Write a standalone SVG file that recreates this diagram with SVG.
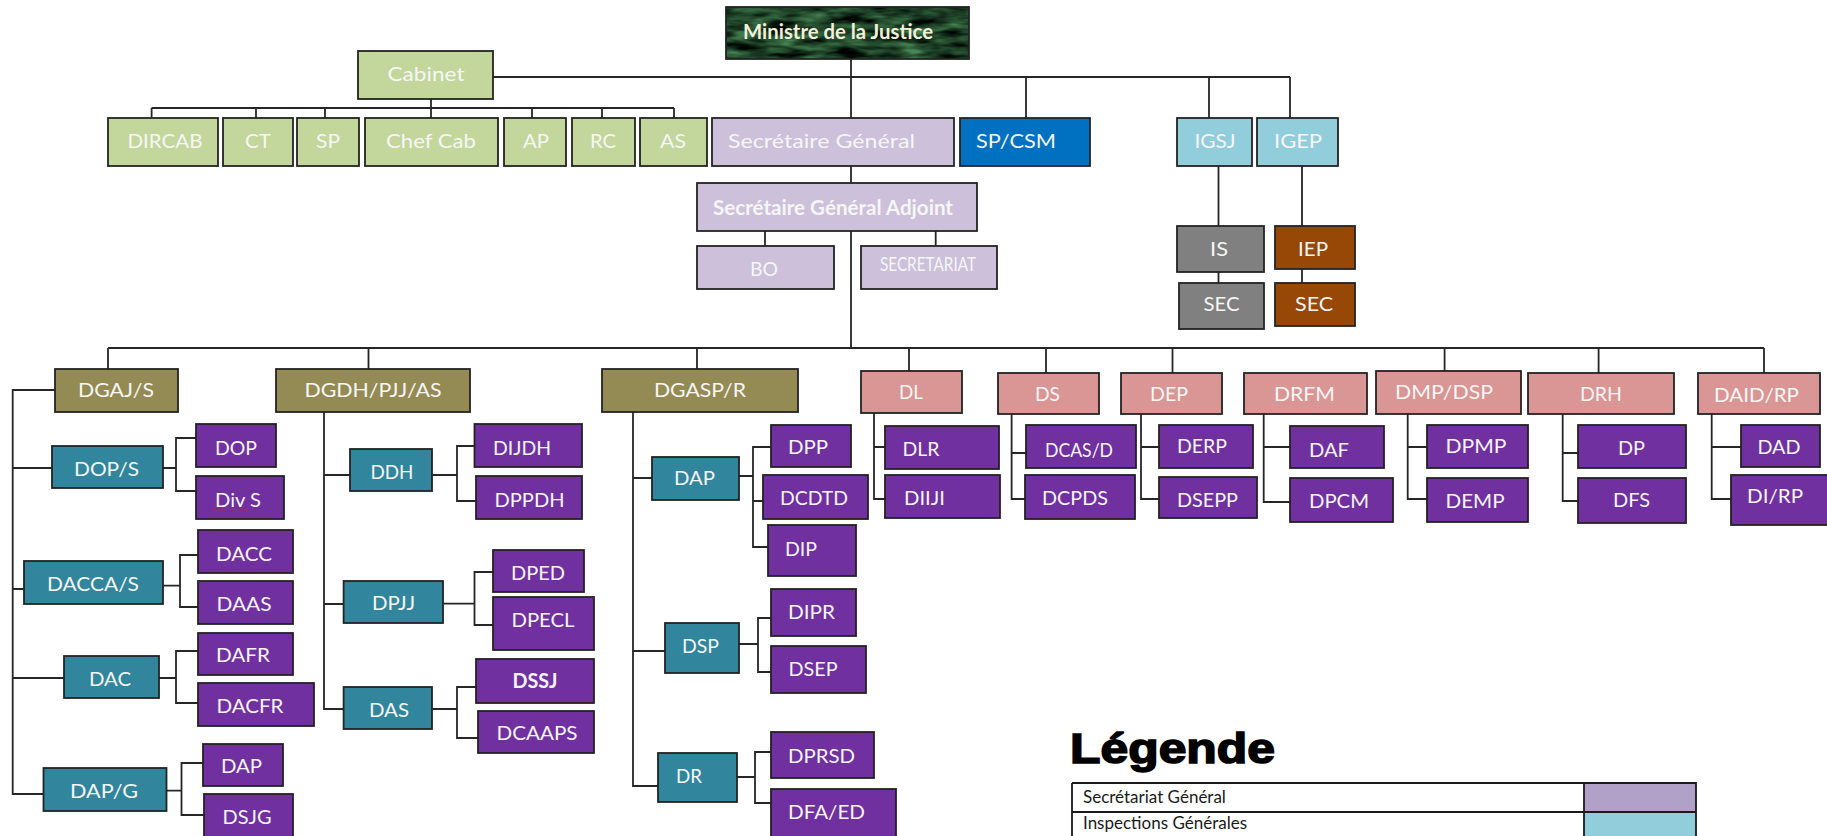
<svg xmlns="http://www.w3.org/2000/svg" width="1827" height="836" viewBox="0 0 1827 836">
<style>
.b{stroke:#232323;stroke-width:1.8}
.g1{fill:#c3d69b}.sg{fill:#ccc0da}.csm{fill:#0070c0}.ig{fill:#92cddc}.gr{fill:#808080}.br{fill:#974706}
.dg{fill:#948a54}.tl{fill:#31859c}.pu{fill:#7030a0}.pk{fill:#d99694}
.t{font-family:Lato,"Liberation Sans",sans-serif;font-size:20px;fill:#f6f6f6;text-anchor:middle}
.bd{font-weight:bold}
.c path{fill:none;stroke:#262626;stroke-width:1.8}
.lg{font-family:Lato,"Liberation Sans",sans-serif;font-size:17px;fill:#1a1a1a}
</style>
<defs>
<filter id="marble" x="0" y="0" width="100%" height="100%" color-interpolation-filters="sRGB">
<feTurbulence type="fractalNoise" baseFrequency="0.03 0.12" numOctaves="3" seed="7" result="n"/>
<feColorMatrix in="n" type="matrix" values="0.5 0 0 0 -0.13  0.85 0 0 0 -0.17  0.55 0 0 0 -0.12  0 0 0 0 1" result="c"/>
<feComposite in="c" in2="SourceGraphic" operator="in"/>
</filter>
</defs>
<rect width="1827" height="836" fill="#ffffff"/>

<g id="connectors" class="c">
<path d="M851,59V118M493,77H1290M1026,77V118M1209,77V118M1290,77V118"/>
<path d="M431,99V108M151.6,108H674M151.6,108V118M256,108V118M325,108V118M431,108V118M532,108V118M602,108V118M674,108V118"/>
<path d="M851,166V183M765,231V246M935.7,231V246M851,231V348"/>
<path d="M1218.5,166V226M1218.5,272V283M1302,166V226M1302,269V283"/>
<path d="M108,348H1764M108,348V369M368.5,348V369M697,348V369M909,348V371M1046,348V373M1172.5,348V373M1444.6,348V371M1598.6,348V373M1764,348V373"/>
<path d="M55,390H12.7V794H43.5M12.7,468H52M12.7,589H24M12.7,678H64"/>
<path d="M163,468H176M196,438H176V491H196M163,585.7H180M198,555H180V607H198M159,678H176M198,651H176V703H198M166.5,790.7H181.5M203,763H181.5V815H204"/>
<path d="M324,412V709H343.6M324,475H350M324,604H343.6"/>
<path d="M432,475H457M474.5,446H457V501H476M443,603.7H474.5M493,572H474.5V625H493M432,709H457M476,687H457V738H478"/>
<path d="M633,412V786H658M633,478H652M633,651H665"/>
<path d="M739,476H753M771,447H753V547H768M753,501H763M739,644H758M771,618H758V672H771M737,777H755M771,752H755V803H771"/>
<path d="M874,413V499H885M874,447H885M1011.6,414V499H1025M1011.6,453H1026M1141,414V499H1159M1141,447H1159M1263.7,414V502H1290M1263.7,447H1290M1407.7,414V499H1427M1407.7,447H1427M1562.7,414V501H1578M1562.7,453H1578M1711.7,414V499H1731M1711.7,447H1741"/>
</g>

<g id="ministre">
<rect x="726" y="7" width="243" height="52" fill="#1c3f26" filter="url(#marble)"/>
<rect x="726" y="7" width="243" height="52" fill="none" class="b"/>
<text class="t bd" x="838" y="39" font-size="19" textLength="190" lengthAdjust="spacingAndGlyphs" style="fill:#f2f0d8">Ministre de la Justice</text>
</g>
<g id="cabinet"><rect class="b g1" x="358" y="51" width="135" height="48"/><text class="t" x="426" y="81" font-size="21" textLength="77" lengthAdjust="spacingAndGlyphs">Cabinet</text></g>
<g id="dircab"><rect class="b g1" x="108" y="118" width="110" height="48"/><text class="t" x="165" y="148" textLength="75" lengthAdjust="spacingAndGlyphs">DIRCAB</text></g>
<g id="ct"><rect class="b g1" x="223" y="118" width="70" height="48"/><text class="t" x="258" y="148" textLength="26" lengthAdjust="spacingAndGlyphs">CT</text></g>
<g id="sp"><rect class="b g1" x="297" y="118" width="62" height="48"/><text class="t" x="328" y="148" textLength="24" lengthAdjust="spacingAndGlyphs">SP</text></g>
<g id="chefcab"><rect class="b g1" x="365" y="118" width="133" height="48"/><text class="t" x="431" y="148" textLength="90" lengthAdjust="spacingAndGlyphs">Chef Cab</text></g>
<g id="ap"><rect class="b g1" x="504" y="118" width="62" height="48"/><text class="t" x="536" y="148" textLength="26" lengthAdjust="spacingAndGlyphs">AP</text></g>
<g id="rc"><rect class="b g1" x="572" y="118" width="63" height="48"/><text class="t" x="603" y="148" textLength="26" lengthAdjust="spacingAndGlyphs">RC</text></g>
<g id="as"><rect class="b g1" x="640" y="118" width="67" height="48"/><text class="t" x="673" y="148" textLength="26" lengthAdjust="spacingAndGlyphs">AS</text></g>
<g id="sg"><rect class="b sg" x="712" y="118" width="242" height="48"/><text class="t" x="821.5" y="148" font-size="22" textLength="187" lengthAdjust="spacingAndGlyphs">Secrétaire Général</text></g>
<g id="spcsm"><rect class="b csm" x="960" y="118" width="130" height="48"/><text class="t" x="1016" y="148" textLength="80" lengthAdjust="spacingAndGlyphs">SP/CSM</text></g>
<g id="igsj"><rect class="b ig" x="1177" y="118" width="75" height="48"/><text class="t" x="1215" y="148" textLength="41" lengthAdjust="spacingAndGlyphs">IGSJ</text></g>
<g id="igep"><rect class="b ig" x="1257" y="118" width="81" height="48"/><text class="t" x="1298" y="148" textLength="48" lengthAdjust="spacingAndGlyphs">IGEP</text></g>
<g id="sga"><rect class="b sg" x="697" y="183" width="280" height="48"/><text class="t bd" x="833" y="215" font-size="18" textLength="240" lengthAdjust="spacingAndGlyphs">Secrétaire Général Adjoint</text></g>
<g id="bo"><rect class="b sg" x="697" y="246" width="137" height="43"/><text class="t" x="764" y="276" textLength="28" lengthAdjust="spacingAndGlyphs">BO</text></g>
<g id="secretariat"><rect class="b sg" x="861" y="246" width="136" height="43"/><text class="t" x="928" y="271" font-size="13" textLength="96" lengthAdjust="spacingAndGlyphs">SECRETARIAT</text></g>
<g id="is"><rect class="b gr" x="1177" y="226" width="87" height="46"/><text class="t" x="1219" y="256" textLength="18" lengthAdjust="spacingAndGlyphs">IS</text></g>
<g id="sec1"><rect class="b gr" x="1179" y="283" width="85" height="46"/><text class="t" x="1221.5" y="311" textLength="36" lengthAdjust="spacingAndGlyphs">SEC</text></g>
<g id="iep"><rect class="b br" x="1275" y="226" width="80" height="43"/><text class="t" x="1313" y="256" textLength="30" lengthAdjust="spacingAndGlyphs">IEP</text></g>
<g id="sec2"><rect class="b br" x="1275" y="283" width="80" height="43"/><text class="t" x="1314" y="311" textLength="38" lengthAdjust="spacingAndGlyphs">SEC</text></g>

<g id="dgajs"><rect class="b dg" x="55" y="369" width="123" height="43"/><text class="t" x="116" y="397" textLength="76" lengthAdjust="spacingAndGlyphs">DGAJ/S</text></g>
<g id="dgdh"><rect class="b dg" x="276" y="369" width="194" height="43"/><text class="t" x="373" y="397" textLength="137" lengthAdjust="spacingAndGlyphs">DGDH/PJJ/AS</text></g>
<g id="dgasp"><rect class="b dg" x="602" y="369" width="196" height="43"/><text class="t" x="700" y="397" textLength="92" lengthAdjust="spacingAndGlyphs">DGASP/R</text></g>
<g id="dl"><rect class="b pk" x="861" y="371" width="101" height="42"/><text class="t" x="911" y="399" textLength="24" lengthAdjust="spacingAndGlyphs">DL</text></g>
<g id="ds"><rect class="b pk" x="998" y="373" width="101" height="41"/><text class="t" x="1047.5" y="400.5" textLength="25" lengthAdjust="spacingAndGlyphs">DS</text></g>
<g id="dep"><rect class="b pk" x="1121" y="373" width="101" height="41"/><text class="t" x="1169" y="400.5" textLength="38" lengthAdjust="spacingAndGlyphs">DEP</text></g>
<g id="drfm"><rect class="b pk" x="1244" y="373" width="123" height="41"/><text class="t" x="1304.5" y="400.5" textLength="61" lengthAdjust="spacingAndGlyphs">DRFM</text></g>
<g id="dmpdsp"><rect class="b pk" x="1376" y="371" width="145" height="43"/><text class="t" x="1444" y="399" textLength="98" lengthAdjust="spacingAndGlyphs">DMP/DSP</text></g>
<g id="drh"><rect class="b pk" x="1528" y="373" width="146" height="41"/><text class="t" x="1601" y="400.5" textLength="42" lengthAdjust="spacingAndGlyphs">DRH</text></g>
<g id="daidrp"><rect class="b pk" x="1698" y="373" width="122" height="41"/><text class="t" x="1756.5" y="401.5" textLength="85" lengthAdjust="spacingAndGlyphs">DAID/RP</text></g>

<g id="dops"><rect class="b tl" x="52" y="446" width="111" height="42"/><text class="t" x="106.5" y="476" textLength="65" lengthAdjust="spacingAndGlyphs">DOP/S</text></g>
<g id="dop"><rect class="b pu" x="196" y="424" width="80" height="43"/><text class="t" x="236" y="455" textLength="42" lengthAdjust="spacingAndGlyphs">DOP</text></g>
<g id="divs"><rect class="b pu" x="196" y="476" width="88" height="43"/><text class="t" x="238" y="506.5" textLength="46" lengthAdjust="spacingAndGlyphs">Div S</text><path d="M213.5,509.5H248" stroke="#d02030" stroke-width="1.3" stroke-dasharray="1.6 1.6" fill="none"/></g>
<g id="daccas"><rect class="b tl" x="24" y="561" width="139" height="43"/><text class="t" x="93" y="591" textLength="92" lengthAdjust="spacingAndGlyphs">DACCA/S</text></g>
<g id="dacc"><rect class="b pu" x="198" y="530" width="95" height="43"/><text class="t" x="244" y="560.5" textLength="56" lengthAdjust="spacingAndGlyphs">DACC</text></g>
<g id="daas"><rect class="b pu" x="198" y="581" width="95" height="43"/><text class="t" x="244" y="610.5" textLength="55" lengthAdjust="spacingAndGlyphs">DAAS</text></g>
<g id="dac"><rect class="b tl" x="64" y="656" width="95" height="42"/><text class="t" x="110" y="686" textLength="42" lengthAdjust="spacingAndGlyphs">DAC</text></g>
<g id="dafr"><rect class="b pu" x="198" y="633" width="95" height="42"/><text class="t" x="243" y="661.5" textLength="54" lengthAdjust="spacingAndGlyphs">DAFR</text></g>
<g id="dacfr"><rect class="b pu" x="198" y="683" width="116" height="43"/><text class="t" x="250" y="713" textLength="67" lengthAdjust="spacingAndGlyphs">DACFR</text></g>
<g id="dapg"><rect class="b tl" x="43.5" y="768" width="123" height="43"/><text class="t" x="104" y="798" textLength="68" lengthAdjust="spacingAndGlyphs">DAP/G</text></g>
<g id="dap1"><rect class="b pu" x="203" y="744" width="80" height="42"/><text class="t" x="241.5" y="773" textLength="41" lengthAdjust="spacingAndGlyphs">DAP</text></g>
<g id="dsjg"><rect class="b pu" x="204" y="794" width="89" height="46"/><text class="t" x="247" y="824" textLength="49" lengthAdjust="spacingAndGlyphs">DSJG</text></g>

<g id="ddh"><rect class="b tl" x="350" y="449" width="82" height="42"/><text class="t" x="392" y="479" textLength="43" lengthAdjust="spacingAndGlyphs">DDH</text></g>
<g id="dijdh"><rect class="b pu" x="474.5" y="424" width="107.5" height="43"/><text class="t" x="522" y="455" textLength="58" lengthAdjust="spacingAndGlyphs">DIJDH</text></g>
<g id="dppdh"><rect class="b pu" x="476" y="476" width="106" height="43"/><text class="t" x="529.5" y="506.5" textLength="70" lengthAdjust="spacingAndGlyphs">DPPDH</text></g>
<g id="dpjj"><rect class="b tl" x="343.6" y="581" width="99.4" height="42"/><text class="t" x="393.5" y="610" textLength="43" lengthAdjust="spacingAndGlyphs">DPJJ</text></g>
<g id="dped"><rect class="b pu" x="493" y="550" width="91" height="42"/><text class="t" x="538" y="580" textLength="54" lengthAdjust="spacingAndGlyphs">DPED</text></g>
<g id="dpecl"><rect class="b pu" x="493" y="597" width="101" height="53"/><text class="t" x="543" y="627" textLength="63" lengthAdjust="spacingAndGlyphs">DPECL</text></g>
<g id="das"><rect class="b tl" x="343.6" y="687" width="88.4" height="42"/><text class="t" x="389" y="716.5" textLength="40" lengthAdjust="spacingAndGlyphs">DAS</text></g>
<g id="dssj"><rect class="b pu" x="476" y="659" width="118" height="44"/><text class="t bd" x="535" y="688" textLength="45" lengthAdjust="spacingAndGlyphs">DSSJ</text></g>
<g id="dcaaps"><rect class="b pu" x="478" y="711" width="116" height="42"/><text class="t" x="537" y="740" textLength="81" lengthAdjust="spacingAndGlyphs">DCAAPS</text></g>

<g id="dap2"><rect class="b tl" x="652" y="457" width="87" height="43"/><text class="t" x="694.5" y="485" textLength="41" lengthAdjust="spacingAndGlyphs">DAP</text></g>
<g id="dpp"><rect class="b pu" x="771" y="425" width="80" height="42"/><text class="t" x="808" y="454" textLength="40" lengthAdjust="spacingAndGlyphs">DPP</text></g>
<g id="dcdtd"><rect class="b pu" x="763" y="475" width="105" height="44"/><text class="t" x="814" y="505" textLength="68" lengthAdjust="spacingAndGlyphs">DCDTD</text></g>
<g id="dip"><rect class="b pu" x="768" y="525" width="88" height="51"/><text class="t" x="801" y="555.5" textLength="32" lengthAdjust="spacingAndGlyphs">DIP</text></g>
<g id="dsp"><rect class="b tl" x="665" y="623" width="74" height="50"/><text class="t" x="700.5" y="653" textLength="37" lengthAdjust="spacingAndGlyphs">DSP</text></g>
<g id="dipr"><rect class="b pu" x="771" y="589" width="85" height="47"/><text class="t" x="811.5" y="619" textLength="47" lengthAdjust="spacingAndGlyphs">DIPR</text></g>
<g id="dsep"><rect class="b pu" x="771" y="646" width="95" height="47"/><text class="t" x="813" y="676" textLength="49" lengthAdjust="spacingAndGlyphs">DSEP</text></g>
<g id="dr"><rect class="b tl" x="658" y="753" width="79" height="49"/><text class="t" x="689" y="783" textLength="26" lengthAdjust="spacingAndGlyphs">DR</text></g>
<g id="dprsd"><rect class="b pu" x="771" y="732" width="103" height="46"/><text class="t" x="821.5" y="762.5" textLength="67" lengthAdjust="spacingAndGlyphs">DPRSD</text></g>
<g id="dfaed"><rect class="b pu" x="771" y="789" width="125" height="52"/><text class="t" x="826.5" y="819" textLength="77" lengthAdjust="spacingAndGlyphs">DFA/ED</text></g>

<g id="dlr"><rect class="b pu" x="885" y="426" width="114" height="43"/><text class="t" x="921" y="456" textLength="37" lengthAdjust="spacingAndGlyphs">DLR</text></g>
<g id="diiji"><rect class="b pu" x="885" y="475" width="115" height="43"/><text class="t" x="924.5" y="505" textLength="41" lengthAdjust="spacingAndGlyphs">DIIJI</text></g>
<g id="dcasd"><rect class="b pu" x="1026" y="425" width="110" height="43"/><text class="t" x="1079" y="456.5" textLength="68" lengthAdjust="spacingAndGlyphs">DCAS/D</text></g>
<g id="dcpds"><rect class="b pu" x="1025" y="475" width="110" height="44"/><text class="t" x="1075" y="505" textLength="66" lengthAdjust="spacingAndGlyphs">DCPDS</text></g>
<g id="derp"><rect class="b pu" x="1159" y="425" width="94" height="43"/><text class="t" x="1202" y="453" textLength="50" lengthAdjust="spacingAndGlyphs">DERP</text></g>
<g id="dsepp"><rect class="b pu" x="1159" y="477" width="98" height="41"/><text class="t" x="1207.5" y="506.5" textLength="61" lengthAdjust="spacingAndGlyphs">DSEPP</text></g>
<g id="daf"><rect class="b pu" x="1290" y="426" width="94" height="42"/><text class="t" x="1329" y="456.5" textLength="40" lengthAdjust="spacingAndGlyphs">DAF</text></g>
<g id="dpcm"><rect class="b pu" x="1290" y="478" width="103" height="44"/><text class="t" x="1339" y="508" textLength="60" lengthAdjust="spacingAndGlyphs">DPCM</text></g>
<g id="dpmp"><rect class="b pu" x="1427" y="425" width="101" height="43"/><text class="t" x="1476" y="453" textLength="61" lengthAdjust="spacingAndGlyphs">DPMP</text></g>
<g id="demp"><rect class="b pu" x="1427" y="478" width="101" height="44"/><text class="t" x="1475" y="508" textLength="59" lengthAdjust="spacingAndGlyphs">DEMP</text></g>
<g id="dp"><rect class="b pu" x="1578" y="425" width="108" height="43"/><text class="t" x="1631.5" y="455" textLength="27" lengthAdjust="spacingAndGlyphs">DP</text></g>
<g id="dfs"><rect class="b pu" x="1578" y="478" width="108" height="45"/><text class="t" x="1631.5" y="506.5" textLength="37" lengthAdjust="spacingAndGlyphs">DFS</text></g>
<g id="dad"><rect class="b pu" x="1741" y="425" width="79" height="42"/><text class="t" x="1779" y="454" textLength="43" lengthAdjust="spacingAndGlyphs">DAD</text></g>
<g id="dirp"><rect class="b pu" x="1731" y="475" width="100" height="50"/><text class="t" x="1775" y="503" textLength="56" lengthAdjust="spacingAndGlyphs">DI/RP</text></g>

<g id="legende">
<text x="1070" y="763" font-family="'Liberation Sans',Arial,sans-serif" font-weight="bold" font-size="42" textLength="205" lengthAdjust="spacingAndGlyphs" fill="#000" stroke="#000" stroke-width="1.6">Légende</text>
<rect x="1584" y="783" width="112" height="29" fill="#b1a0c7"/>
<rect x="1584" y="812" width="112" height="30" fill="#92cddc"/>
<path d="M1072,783H1696V842M1072,783V842M1072,812H1696M1584,783V842" fill="none" stroke="#1a1a1a" stroke-width="1.8"/>
<text class="lg" x="1083" y="803">Secrétariat Général</text>
<text class="lg" x="1083" y="829">Inspections Générales</text>
</g>
</svg>
